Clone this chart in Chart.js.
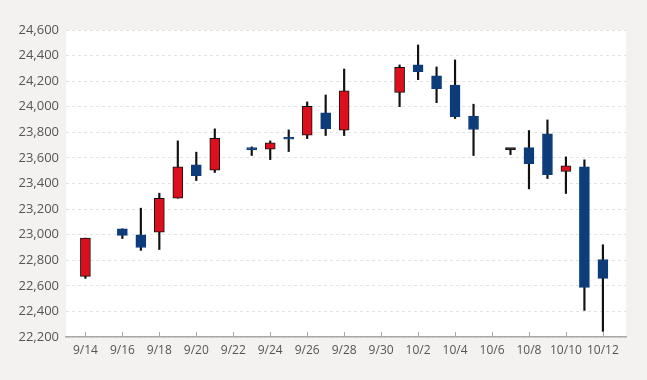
<!DOCTYPE html>
<html>
<head>
<meta charset="utf-8">
<script src="https://cdn.jsdelivr.net/npm/chart.js@4/dist/chart.umd.min.js"></script>
<style>
html,body{margin:0;padding:0;background:#f3f2f0;}
#wrap{width:647px;height:380px;position:relative;}
</style>
</head>
<body>
<div id="wrap"><canvas id="c"></canvas></div>
<script>
// ---- data ----
const dates = ['9/14','9/16','9/17','9/18','9/19','9/20','9/21','9/23','9/24','9/25','9/26','9/27','9/28','10/1','10/2','10/3','10/4','10/5','10/7','10/8','10/9','10/10','10/11','10/12'];
const openVals  = [22674,23046,22999,23020,23285,23546,23504,23681,23668,23757,23777,23952,23816,24113,24327,24241,24170,23928,23665,23681,23788,23494,23530,22806];
const highVals  = [22973,23046,23207,23324,23733,23645,23827,23686,23733,23819,24038,24092,24295,24327,24483,24311,24366,24020,23668,23814,23897,23608,23585,22921];
const lowVals   = [22658,22970,22877,22884,23285,23423,23486,23619,23587,23650,23751,23775,23775,24001,24212,24032,23908,23619,23626,23358,23439,23322,22408,22244];
const closeVals = [22973,22994,22900,23285,23530,23462,23754,23665,23718,23746,24004,23829,24124,24308,24275,24142,23923,23822,23665,23556,23470,23538,22588,22658];
const xTickLabels = ['9/14','9/16','9/18','9/20','9/22','9/24','9/26','9/28','9/30','10/2','10/4','10/6','10/8','10/10','10/12'];
const yMin = 22200, yMax = 24600, yStep = 200;

// day offsets from first date
function dayOf(s){ const [m,d] = s.split('/').map(Number); return new Date(2018, m-1, d).getTime(); }
const base = dayOf(dates[0]);
const dayIdx = dates.map(s => Math.round((dayOf(s) - base) / 86400000));

const RED = '#dc0f1c', BLUE = '#0d3c7a', BLACK = '#111111';
const bodyColor = dates.map((_, i) => closeVals[i] > openVals[i] ? RED : (closeVals[i] < openVals[i] ? BLUE : BLACK));
const bodyBorder = dates.map((_, i) => closeVals[i] > openVals[i] ? BLACK : (closeVals[i] < openVals[i] ? BLUE : BLACK));

const plotBg = {
  id: 'plotBg',
  beforeDraw(chart) {
    const {ctx, chartArea: a} = chart;
    ctx.save();
    ctx.fillStyle = '#ffffff';
    ctx.fillRect(a.left, a.top, a.right - a.left, a.bottom - a.top);
    ctx.restore();
  },
  afterDraw(chart) {
    const {ctx, chartArea: a} = chart;
    const xs = chart.scales.x;
    ctx.save();
    ctx.strokeStyle = '#a9a9a9';
    ctx.lineWidth = 1;
    xs.ticks.forEach(t => {
      const px = Math.round(xs.getPixelForValue(t.value)) + 0.5;
      ctx.beginPath();
      ctx.moveTo(px, a.bottom - 5);
      ctx.lineTo(px, a.bottom);
      ctx.stroke();
    });
    ctx.restore();
  }
};

new Chart(document.getElementById('c'), {
  type: 'bar',
  data: {
    datasets: [
      {
        label: 'body',
        data: dates.map((_, i) => ({x: dayIdx[i], y: [openVals[i], closeVals[i]]})),
        backgroundColor: bodyColor,
        borderColor: bodyBorder,
        borderWidth: 1,
        borderSkipped: false,
        barThickness: 10,
        minBarLength: 2,
        grouped: false,
        order: 0
      },
      {
        label: 'wick',
        data: dates.map((_, i) => ({x: dayIdx[i], y: [lowVals[i], highVals[i]]})),
        backgroundColor: BLACK,
        borderWidth: 0,
        barThickness: 1.5,
        grouped: false,
        order: 1
      }
    ]
  },
  options: {
    responsive: true,
    maintainAspectRatio: false,
    animation: false,
    layout: {padding: {left: 0, right: 21, top: 30, bottom: 0}},
    plugins: {legend: {display: false}, tooltip: {enabled: false}},
    scales: {
      x: {
        type: 'linear',
        min: -1.05,
        max: 29.25,
        offset: false,
        afterFit: s => { s.height = 43; },
        grid: {display: false, drawTicks: false},
        border: {display: true, color: '#a9a9a9', width: 1.5},
        ticks: {
          stepSize: 2,
          includeBounds: false,
          autoSkip: false,
          maxRotation: 0,
          padding: 6,
          color: '#555555',
          font: {family: 'Open Sans', size: 12},
          callback: v => xTickLabels[v / 2] ?? ''
        }
      },
      y: {
        min: yMin,
        max: yMax,
        afterFit: s => { s.width = 66; },
        grid: {color: '#e2e2e2', drawTicks: false, tickBorderDash: [3, 3]},
        border: {display: false, dash: [3, 3]},
        ticks: {
          stepSize: yStep,
          padding: 7,
          color: '#555555',
          font: {family: 'Open Sans', size: 13},
          callback: v => Number(v).toLocaleString('en-US')
        }
      }
    }
  },
  plugins: [plotBg]
});
</script>
</body>
</html>
